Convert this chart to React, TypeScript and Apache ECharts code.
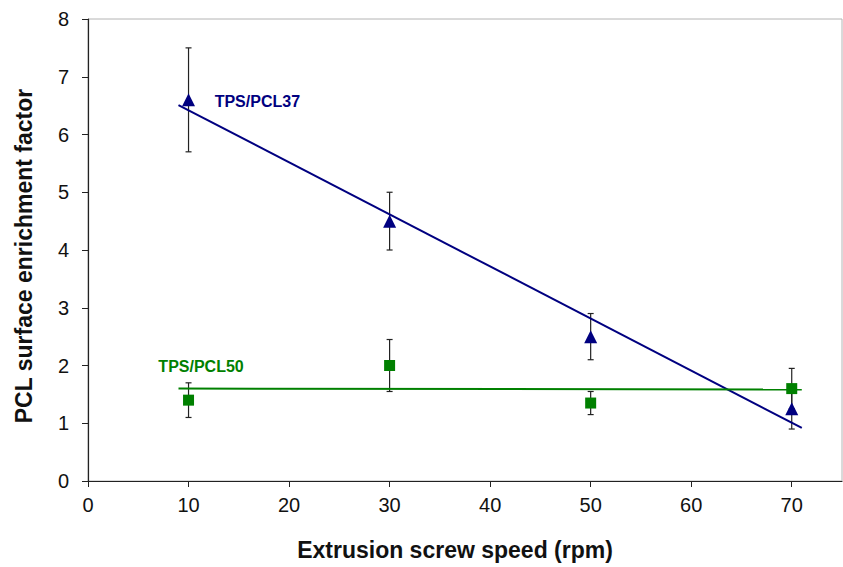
import React, { useEffect, useRef } from "react";
import * as echarts from "echarts";

const xTicks = [0, 10, 20, 30, 40, 50, 60, 70];
const speeds = [10, 30, 50, 70];
const pcl37 = [6.6, 4.5, 2.5, 1.25];
const pcl37Err = [0.9, 0.5, 0.4, 0.35];
const pcl50 = [1.4, 2.0, 1.35, 1.6];
const pcl50Err = [0.3, 0.45, 0.2, 0.35];
const trend37 = [[9, 6.51], [71, 0.92]];
const trend50 = [[9, 1.6], [71, 1.585]];
const labels = [
  { name: "TPS/PCL37", x: 12.6, y: 6.58, color: "#000080" },
  { name: "TPS/PCL50", x: 7.0, y: 1.99, color: "#008000" },
];

const FONT = "'Liberation Sans', Arial, Helvetica, sans-serif";

function errData(vals: number[], errs: number[]) {
  return speeds.map((s, i) => [s, vals[i] - errs[i], vals[i] + errs[i]]);
}

const renderErr = (params: any, api: any) => {
  const x = api.value(0);
  const lo = api.coord([x, api.value(1)]);
  const hi = api.coord([x, api.value(2)]);
  const w = 3;
  const style = { stroke: "#222", lineWidth: 1.2 };
  return {
    type: "group",
    children: [
      { type: "line", shape: { x1: lo[0], y1: lo[1], x2: hi[0], y2: hi[1] }, style },
      { type: "line", shape: { x1: lo[0] - w, y1: lo[1], x2: lo[0] + w, y2: lo[1] }, style },
      { type: "line", shape: { x1: hi[0] - w, y1: hi[1], x2: hi[0] + w, y2: hi[1] }, style },
    ],
  };
};

export default function App() {
  const ref = useRef<HTMLDivElement>(null);
  useEffect(() => {
    if (!ref.current) return;
    const chart = echarts.init(ref.current, undefined, { renderer: "svg" });
    chart.setOption({
      animation: false,
      textStyle: { fontFamily: FONT },
      grid: {
        left: 88,
        top: 19,
        right: 1,
        bottom: 86,
        show: true,
        borderColor: "#b4b4b4",
        borderWidth: 1,
        backgroundColor: "transparent",
      },
      xAxis: {
        type: "value",
        min: 0,
        max: 75,
        interval: 10,
        splitLine: { show: false },
        axisLine: { onZero: false, lineStyle: { color: "#222", width: 1.2 } },
        axisTick: { inside: false, length: 6, customValues: xTicks, lineStyle: { color: "#222" } },
        axisLabel: { customValues: xTicks, fontSize: 20, color: "#111", margin: 14, fontFamily: FONT },
        name: "Extrusion screw speed (rpm)",
        nameLocation: "middle",
        nameGap: 57,
        nameTextStyle: {
          fontSize: 23,
          fontWeight: "bold",
          color: "#111",
          fontFamily: FONT,
          padding: [0, 20, 0, 0],
        },
      },
      yAxis: {
        type: "value",
        min: 0,
        max: 8,
        interval: 1,
        splitLine: { show: false },
        axisLine: { show: true, onZero: false, lineStyle: { color: "#222", width: 1.2 } },
        axisTick: { show: true, inside: false, length: 6, lineStyle: { color: "#222" } },
        axisLabel: { fontSize: 20, color: "#111", margin: 19, fontFamily: FONT },
        name: "PCL surface enrichment factor",
        nameLocation: "middle",
        nameGap: 53,
        nameTextStyle: {
          fontSize: 23,
          fontWeight: "bold",
          color: "#111",
          fontFamily: FONT,
          padding: [0, 12, 0, 0],
        },
      },
      series: [
        {
          type: "custom",
          renderItem: renderErr,
          data: errData(pcl37, pcl37Err),
          z: 1,
          silent: true,
        },
        {
          type: "custom",
          renderItem: renderErr,
          data: errData(pcl50, pcl50Err),
          z: 1,
          silent: true,
        },
        {
          type: "line",
          data: trend37,
          symbol: "none",
          lineStyle: { color: "#000080", width: 2 },
          z: 2,
        },
        {
          type: "line",
          data: trend50,
          symbol: "none",
          lineStyle: { color: "#008000", width: 2 },
          z: 2,
        },
        {
          type: "scatter",
          data: speeds.map((s, i) => [s, pcl37[i]]),
          symbol: "triangle",
          symbolSize: 13,
          itemStyle: { color: "#000080", opacity: 1 },
          z: 3,
        },
        {
          type: "scatter",
          data: speeds.map((s, i) => [s, pcl50[i]]),
          symbol: "rect",
          symbolSize: 11,
          itemStyle: { color: "#008000", opacity: 1 },
          z: 3,
        },
        ...labels.map((l) => ({
          type: "scatter",
          data: [[l.x, l.y]],
          symbolSize: 0,
          itemStyle: { opacity: 1 },
          z: 4,
          label: {
            show: true,
            position: "right",
            distance: 0,
            formatter: l.name,
            color: l.color,
            fontSize: 16,
            fontWeight: "bold",
            fontFamily: FONT,
          },
        })),
      ],
    });
    return () => chart.dispose();
  }, []);
  return <div ref={ref} style={{ width: 843, height: 567, position: "absolute", left: 0, top: 0 }} />;
}
